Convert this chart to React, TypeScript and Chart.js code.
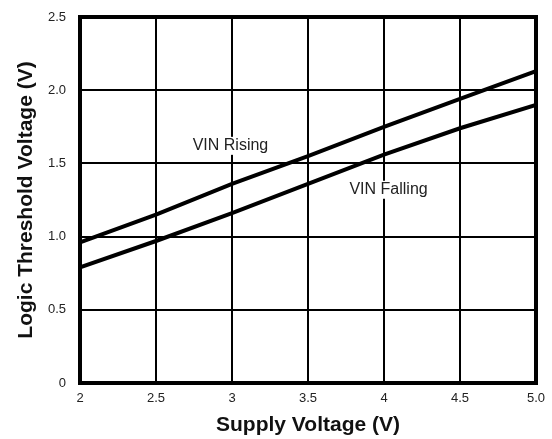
import React, { useEffect, useRef } from "react";
import { Chart, registerables } from "chart.js";

Chart.register(...registerables);

const supplyVoltage = [2.0, 2.5, 3.0, 3.5, 4.0, 4.5, 5.0];
const vinRising = [0.96, 1.15, 1.36, 1.55, 1.75, 1.94, 2.13];
const vinFalling = [0.79, 0.97, 1.16, 1.36, 1.56, 1.74, 1.90];
const xTickLabels = ["2", "2.5", "3", "3.5", "4", "4.5", "5.0"];
const yTickLabels = ["0", "0.5", "1.0", "1.5", "2.0", "2.5"];
const annotationTexts = ["VIN Rising", "VIN Falling"];
const annotationX = [2.99, 4.03];
const annotationY = [1.62, 1.32];

const FONT = "'Liberation Sans', Arial, Helvetica, sans-serif";

const labelPlugin = {
  id: "curveLabels",
  afterDatasetsDraw(chart: any) {
    const { ctx, scales } = chart;
    ctx.save();
    ctx.font = `16px ${FONT}`;
    ctx.textAlign = "center";
    ctx.textBaseline = "middle";
    annotationTexts.forEach((t, i) => {
      const x = scales.x.getPixelForValue(annotationX[i]);
      const y = scales.y.getPixelForValue(annotationY[i]);
      const w = ctx.measureText(t).width;
      ctx.fillStyle = "#ffffff";
      ctx.fillRect(x - w / 2 - 2, y - 9, w + 4, 18);
      ctx.fillStyle = "#222222";
      ctx.fillText(t, x, y);
    });
    ctx.restore();
  },
};

export default function App() {
  const ref = useRef<HTMLCanvasElement>(null);
  useEffect(() => {
    const chart = new Chart(ref.current!, {
      type: "line",
      data: {
        datasets: [
          {
            label: "VIN Rising",
            data: supplyVoltage.map((x, i) => ({ x, y: vinRising[i] })),
            borderColor: "#000",
            borderWidth: 4,
            pointRadius: 0,
            tension: 0,
          },
          {
            label: "VIN Falling",
            data: supplyVoltage.map((x, i) => ({ x, y: vinFalling[i] })),
            borderColor: "#000",
            borderWidth: 4,
            pointRadius: 0,
            tension: 0,
          },
        ],
      },
      options: {
        animation: false,
        responsive: false,
        maintainAspectRatio: false,
        layout: { padding: { top: 17, right: 16, left: 0, bottom: 0 } },
        plugins: { legend: { display: false }, tooltip: { enabled: false } },
        scales: {
          x: {
            type: "linear",
            min: 2,
            max: 5,
            ticks: {
              stepSize: 0.5,
              color: "#222",
              font: { family: FONT, size: 13 },
              padding: 8,
              maxRotation: 0,
              callback: (v: any, i: number) => xTickLabels[i] ?? "",
            },
            grid: {
              color: "#000",
              lineWidth: 2,
              drawTicks: false,
            },
            border: { color: "#000", width: 4 },
            title: {
              display: true,
              text: "Supply Voltage (V)",
              color: "#111",
              font: { family: FONT, size: 21, weight: "bold" },
              padding: { top: 2, bottom: 1 },
            },
            afterFit: (s: any) => {
              s.height = 56;
              s.paddingLeft = 0;
              s.paddingRight = 0;
            },
          },
          y: {
            min: 0,
            max: 2.5,
            ticks: {
              stepSize: 0.5,
              color: "#222",
              font: { family: FONT, size: 13 },
              padding: 14,
              callback: (v: any, i: number) => yTickLabels[i] ?? "",
            },
            grid: {
              color: "#000",
              lineWidth: 2,
              drawTicks: false,
            },
            border: { color: "#000", width: 4 },
            title: {
              display: true,
              text: "Logic Threshold Voltage (V)",
              color: "#111",
              font: { family: FONT, size: 21, weight: "bold" },
              padding: { top: 14, bottom: 2 },
            },
            afterFit: (s: any) => {
              s.width = 80;
              s.paddingTop = 0;
              s.paddingBottom = 0;
            },
          },
        },
      },
      plugins: [
        labelPlugin,
        {
          id: "frame",
          afterDatasetsDraw(chart: any) {
            const { ctx, chartArea } = chart;
            ctx.save();
            ctx.strokeStyle = "#000";
            ctx.lineWidth = 4;
            ctx.strokeRect(chartArea.left, chartArea.top, chartArea.right - chartArea.left, chartArea.bottom - chartArea.top);
            ctx.restore();
          },
        },
      ],
    } as any);
    return () => chart.destroy();
  }, []);
  return (
    <div style={{ position: "absolute", left: 0, top: 0, width: 552, height: 439, background: "#fff" }}>
      <canvas ref={ref} width={552} height={439} />
    </div>
  );
}
